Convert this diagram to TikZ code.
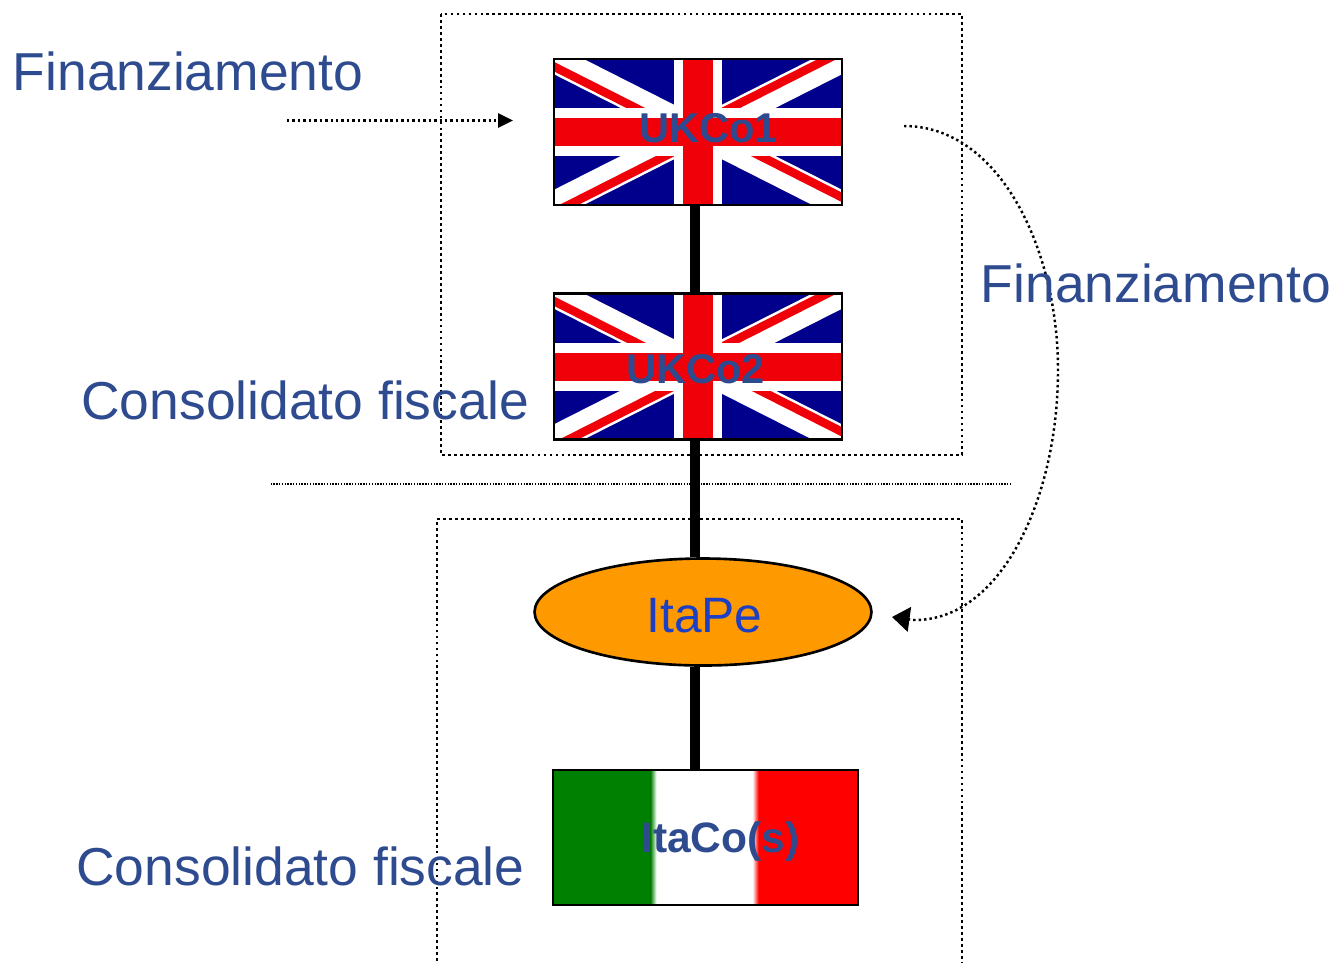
\documentclass[tikz,border=0pt]{standalone}
\usepackage{fontspec}
\setmainfont{Liberation Sans}
\usetikzlibrary{calc,shapes.geometric,arrows.meta}
\definecolor{labelblue}{HTML}{2F4B8F}
\definecolor{itapeblue}{HTML}{1C3FC4}
\definecolor{jackblue}{HTML}{00008C}
\definecolor{jackred}{HTML}{F00008}
\definecolor{itagreen}{HTML}{008000}
\definecolor{itaorange}{HTML}{FF9900}
\newcommand{\unionjack}{%
    \fill[jackblue] (-150,-80) rectangle (150,80);
    \foreach \s in {1,-1}
    \draw[white,line width=.54cm] (-160,-81*\s) -- (160,81*\s);
    \draw[jackred,line width=.17cm] (-160,-73.5) -- (0,7.5);
    \draw[jackred,line width=.17cm] (160,-88.5) -- (0,-7.5);
    \draw[jackred,line width=.17cm] (160,73.5) -- (0,-7.5);
    \draw[jackred,line width=.17cm] (-160,88.5) -- (0,7.5);
    \fill[white] (-24,-80) rectangle (24,80);
    \fill[white] (-150,-24) rectangle (150,24);
    \fill[jackred] (-15,-80) rectangle (15,80);
    \fill[jackred] (-150,-14) rectangle (150,14);
}
\tikzset{
    ukflag/.style={draw,line width=1.3pt,inner sep=0pt,minimum width=5.76cm,minimum height=2.92cm,
        path picture={\begin{scope}[shift={(path picture bounding box.center)}]\unionjack\end{scope}}},
    itaflag/.style={draw,line width=1.3pt,inner sep=0pt,minimum width=6.1cm,minimum height=2.7cm,
        path picture={\begin{scope}[shift={(path picture bounding box.center)}]
            \fill[itagreen] (-160,-80) rectangle (-55,80);
            \shade[left color=itagreen,right color=white] (-55,-80) rectangle (-49,80);
            \fill[white] (-49,-80) rectangle (47,80);
            \shade[left color=white,right color=red] (47,-80) rectangle (53,80);
            \fill[red] (53,-80) rectangle (160,80);
        \end{scope}}},
    bigtext/.style={text=labelblue,font=\fontsize{30.4}{36}\selectfont,inner sep=0pt},
    flagtext/.style={text=labelblue,font=\fontsize{23.7}{28}\selectfont\bfseries,inner sep=0pt},
    spineline/.style={line width=5.3pt},
    boxline/.style={line width=1.6pt,dash pattern=on 1.6pt off 1.8pt},
    flowline/.style={line width=1.4pt,dash pattern=on 1.4pt off 1.7pt},
    splitline/.style={line width=.7pt,dash pattern=on .8pt off .8pt},
}
\begin{document}
\begin{tikzpicture}[x=.02cm,y=-.02cm]
    \useasboundingbox (0,0) rectangle (1334,964);
    \coordinate (spine) at (695,0);
    \coordinate (flowin) at (287,120.5);
    \coordinate (flowinend) at (513,120.5);
    \coordinate (flowout) at (904,126);
    \coordinate (flowmid) at (1058,370);
    \coordinate (flowbend) at (914,620);
    \coordinate (flowoutend) at (892,617);
    \coordinate (topboxa) at (441,14);
    \coordinate (topboxb) at (962,455);
    \coordinate (lowboxa) at (437,961);
    \coordinate (lowboxb) at (437,519);
    \coordinate (lowboxc) at (962,519);
    \coordinate (lowboxd) at (962,963);
    \coordinate (splita) at (270.5,484);
    \coordinate (splitb) at (1012.5,484);
    \node[ukflag] (uk1) at (698,132) {};
    \node[ukflag] (uk2) at (698,366.5) {};
    \node[ellipse,draw,line width=1.5pt,fill=itaorange,inner sep=0pt,minimum width=6.74cm,minimum height=2.14cm] (itape) at (703,612) {};
    \node[itaflag] (itaco) at (705.5,837.5) {};
    \draw[spineline] (uk1.south -| spine) -- (uk2.north -| spine);
    \draw[spineline] (uk2.south -| spine) -- (itape.north -| spine);
    \draw[spineline] (itape.south -| spine) -- (itaco.north -| spine);
    \draw[boxline] (topboxa) rectangle (topboxb);
    \draw[boxline] (lowboxa) -- (lowboxb) -- (lowboxc) -- (lowboxd);
    \draw[splitline] (splita) -- (splitb);
    \draw[flowline,-{Triangle[length=8.5pt,width=8pt]}] (flowin) -- (flowinend);
    \draw[flowline,-{Triangle[length=10pt,width=14pt]}] (flowout) .. controls (1000,126) and (1058,250) .. (flowmid) .. controls (1058,500) and (1000,621) .. (flowbend) -- (flowoutend);
    \node[flagtext] (uk1text) at (708.5,128) {UKCo1};
    \node[flagtext] (uk2text) at (695.5,369) {UKCo2};
    \node[flagtext,font=\fontsize{24.2}{28}\selectfont\bfseries] (itacotext) at (720.5,841) {ItaCo(s)};
    \node[text=itapeblue,font=\fontsize{28.3}{34}\selectfont,inner sep=0pt] (itapetext) at (704.5,616) {ItaPe};
    \node[bigtext] (flowleft) at (188,71) {Finanziamento};
    \node[bigtext] (flowright) at (1156,283) {Finanziamento};
    \node[bigtext] (consuk) at (305.5,400) {Consolidato fiscale};
    \node[bigtext] (consita) at (300.5,866) {Consolidato fiscale};
\end{tikzpicture}
\end{document}
